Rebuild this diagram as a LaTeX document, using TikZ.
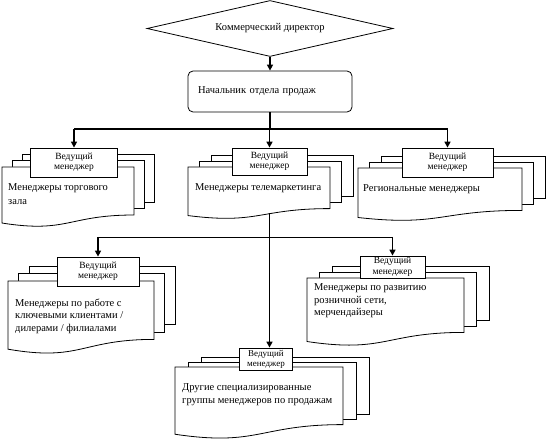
\documentclass[tikz,border=0pt]{standalone}
\usepackage{fontspec}
\setmainfont{Liberation Serif}
\usetikzlibrary{shapes.geometric,arrows.meta}

\tikzset{
	docline/.style={line width=0.8pt},
	mainline/.style={line width=1.6pt},
	thinline/.style={line width=0.8pt},
	tip/.style={-{Triangle[length=6pt,width=6pt]}},
	leadbox/.style={draw, line width=0.8pt, fill=white, inner sep=0pt, align=center,
		font=\fontsize{9.5}{10.5}\selectfont},
	doctext/.style={anchor=north west, inner sep=0pt, align=left,
		font=\fontsize{10.5}{12.5}\selectfont}}

% multidocument: x, y (top left of front page), width, height, shift x, shift y
\newcommand{\multidoc}[6]{%
	% back page
	\draw [docline] (#1+2*#5,#2-#6) -- (#1+2*#5,#2-2*#6) -- (#1+#3+2*#5,#2-2*#6) -- (#1+#3+2*#5,#2+0.8*#4-2*#6) -- (#1+#3+#5,#2+0.8*#4-2*#6) ;
	% middle page
	\draw [docline] (#1+#5,#2) -- (#1+#5,#2-#6) -- (#1+#3+#5,#2-#6) -- (#1+#3+#5,#2+0.8*#4-#6) -- (#1+#3,#2+0.8*#4-#6) ;
	% front page
	\draw [docline, fill=white] (#1,#2) -- (#1+#3,#2) -- (#1+#3,#2+0.8*#4) .. controls (#1+0.5*#3,#2+0.8*#4) and (#1+0.5*#3,#2+1.107*#4) .. (#1,#2+0.934*#4) -- cycle ;
}

\begin{document}
\begin{tikzpicture}[x=1pt,y=1pt,yscale=-1,xscale=1]
	\useasboundingbox (0,0) rectangle (548,443);

	%Shape: Diamond
	\node [draw, diamond, aspect=4.39, line width=0.8pt, minimum width=246, minimum height=56, inner sep=0pt,
		font=\fontsize{10.5}{12.5}\selectfont] (dir) at (270,28.5) {Коммерческий директор};
	%Shape: Rounded Rect
	\node [draw, rectangle, rounded corners=5pt, line width=0.8pt, minimum width=164, minimum height=41,
		text width=144, inner xsep=10pt, align=left, font=\fontsize{10.5}{12.5}\selectfont] (head) at (270,91.5) {Начальник отдела продаж};

	%Shape: Multidocument
	\multidoc{2}{167}{132}{60}{10}{6.5}
	\multidoc{188}{167}{142}{52}{11.5}{6}
	\multidoc{358}{168}{164}{53}{11.5}{6}
	\multidoc{8}{281}{146}{73}{10.5}{7.5}
	\multidoc{307}{278}{157}{68}{12.5}{6}
	\multidoc{175}{367}{168}{72}{13}{5}

	% Lead boxes
	\node [leadbox, minimum width=87, minimum height=29] (leadA) at (74,162.5) {Ведущий\\менеджер};
	\node [leadbox, minimum width=75, minimum height=27] (leadB) at (269.5,161.5) {Ведущий\\менеджер};
	\node [leadbox, minimum width=91, minimum height=29] (leadC) at (447.5,162.5) {Ведущий\\менеджер};
	\node [leadbox, minimum width=82, minimum height=29] (leadD) at (98,271.5) {Ведущий\\менеджер};
	\node [leadbox, minimum width=65, minimum height=22] (leadE) at (392.5,267) {Ведущий\\менеджер};
	\node [leadbox, minimum width=53, minimum height=22, font=\fontsize{9}{10}\selectfont] (leadF) at (266,359) {Ведущий\\менеджер};

	% Text Node
	\node [doctext] (txtA) at (8,183.5) {Менеджеры торгового\\[1.5pt]зала};
	\node [doctext] (txtB) at (195,183.5) {Менеджеры телемаркетинга};
	\node [doctext] (txtC) at (363,184.5) {Региональные менеджеры};
	\node [doctext] (txtD) at (15,298.5) {Менеджеры по работе с\\ключевыми клиентами /\\дилерами / филиалами};
	\node [doctext] (txtE) at (314,283.5) {Менеджеры по развитию\\розничной сети,\\мерчендайзеры};
	\node [doctext] (txtF) at (182,383.5) {Другие специализированные\\группы менеджеров по продажам};

	\coordinate (topbus) at (270,129);
	\coordinate (docB) at (269.5,213.5);
	\coordinate (lowbus) at (269,237);

	%Straight Lines
	\draw [mainline, tip] (dir.south) -- (head.north) ;
	\draw [mainline] (head.south) -- (topbus) ;
	\draw [mainline] (leadA.north |- topbus) -- (leadC.north |- topbus) ;
	\draw [mainline, tip] (leadA.north |- topbus) -- (leadA.north) ;
	\draw [mainline, tip] (leadB.north |- topbus) -- (leadB.north) ;
	\draw [mainline, tip] (leadC.north |- topbus) -- (leadC.north) ;
	\draw [mainline, tip] (docB) -- (docB |- leadF.north) ;
	\draw [thinline] (leadD.north |- lowbus) -- (leadE.north |- lowbus) ;
	\draw [mainline, tip] (leadD.north |- lowbus) -- (leadD.north) ;
	\draw [mainline, tip] (leadE.north |- lowbus) -- (leadE.north) ;

\end{tikzpicture}
\end{document}
